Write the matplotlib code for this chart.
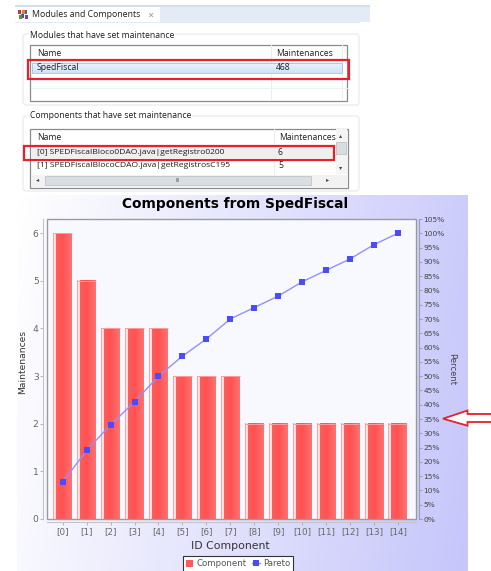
import numpy as np
import matplotlib
matplotlib.use("Agg")
import matplotlib.pyplot as plt
from matplotlib.colors import LinearSegmentedColormap
from matplotlib.patches import Rectangle, FancyBboxPatch, Polygon

# ---- data ----
categories = ["[0]", "[1]", "[2]", "[3]", "[4]", "[5]", "[6]", "[7]",
              "[8]", "[9]", "[10]", "[11]", "[12]", "[13]", "[14]"]
maintenances = [6, 5, 4, 4, 4, 3, 3, 3, 2, 2, 2, 2, 2, 2, 2]
pareto_pct = [13, 24, 33, 41, 50, 57, 63, 70, 74, 78, 83, 87, 91, 96, 100]
percent_ticks = list(range(0, 110, 5))
count_ticks = [0, 1, 2, 3, 4, 5, 6]
title = "Components from SpedFiscal"

W, H = 491, 571
fig = plt.figure(figsize=(W / 100, H / 100), dpi=100, facecolor="white")

# ---- pixel-space layer: window mock-up and chart panel ----
ui = fig.add_axes([0, 0, 1, 1], zorder=1)
ui.axis("off")
UIF = "Open Sans"
TXT = "#1E1E1E"

# chart panel gradient
yy, xx = np.mgrid[0:1:120j, 0:1:200j]
t = np.clip(xx * 0.88 + yy * 0.12, 0, 1)
panel = LinearSegmentedColormap.from_list("p", ["#FFFFFF", "#C6C6FB"])
ui.imshow(t, extent=(17, 467.5, 571, 195), cmap=panel, vmin=0, vmax=1,
          aspect="auto", interpolation="bilinear", zorder=1)

# tab strip
ui.add_patch(Rectangle((15, 5), 355, 1.5, fc="#D5DDEB", ec="none", zorder=1))
ui.add_patch(Rectangle((160, 7), 210, 15, fc="#E2EBF6", ec="none", zorder=1))
ui.add_patch(Rectangle((15, 22), 345, 0.8, fc="#E4EAF3", ec="none", zorder=1))
for (x0, y0, c) in [(18, 10, "#C0392B"), (21, 14, "#3B5BA5"), (24, 10, "#7B4FA0"),
                    (19, 15, "#5C8F3A"), (22, 10, "#D08A30"), (25, 15, "#8A3F8A")]:
    ui.add_patch(Rectangle((x0, y0), 3.2, 4, fc=c, ec="none", zorder=2))
ui.text(32, 14.5, "Modules and Components", family=UIF, fontsize=6.3, color=TXT,
        va="center", ha="left", zorder=3)
ui.text(150, 15, "\u2715", family="DejaVu Sans", fontsize=5.5, color="#999999",
        va="center", ha="center", zorder=3)

# group boxes
for (x0, y0, w, h) in [(23, 34, 336, 71), (23, 116, 336, 75)]:
    ui.add_patch(FancyBboxPatch((x0, y0), w, h, boxstyle="round,pad=0,rounding_size=3",
                                fc="white", ec="#E6E8EC", lw=0.8, zorder=1))
for (y0, s) in [(35, "Modules that have set maintenance"),
                (116, "Components that have set maintenance")]:
    ui.text(30, y0, s, family=UIF, fontsize=6.2, color=TXT, va="center", ha="left",
            zorder=3, bbox=dict(fc="white", ec="none", pad=0.6))

# first table
ui.add_patch(Rectangle((30.5, 44.5), 317, 56, fc="white", ec="#8A8A8A", lw=0.9, zorder=2))
ui.plot([271.5, 271.5], [45, 100], color="#EDEDED", lw=0.7, zorder=2.1)
ui.plot([342.5, 342.5], [45, 100], color="#EDEDED", lw=0.7, zorder=2.1)
ui.plot([31, 347], [87.5, 87.5], color="#F0F0F0", lw=0.7, zorder=2.1)
sel = LinearSegmentedColormap.from_list("s", ["#EAF3FC", "#CFE3F8"])
ui.imshow(np.linspace(0, 1, 20)[:, None], extent=(32, 342, 73, 63), cmap=sel, aspect="auto", zorder=2.2)
ui.add_patch(Rectangle((32, 63), 310, 10, fc="none", ec="#9CC4EC", lw=0.6, zorder=2.3))
ui.text(37, 53.5, "Name", family=UIF, fontsize=6.2, color=TXT, va="center", zorder=3)
ui.text(276, 53.5, "Maintenances", family=UIF, fontsize=6.2, color=TXT, va="center", zorder=3)
ui.text(37, 68, "SpedFiscal", family=UIF, fontsize=6.2, color=TXT, va="center", zorder=3)
ui.text(276, 68, "468", family=UIF, fontsize=6.2, color=TXT, va="center", zorder=3)
ui.add_patch(Rectangle((28.5, 59.5), 320.5, 19, fc="none", ec="#E8202C", lw=1.6, zorder=4))

# second table
ui.add_patch(Rectangle((30.5, 128.5), 318, 59, fc="white", ec="#8A8A8A", lw=0.9, zorder=2))
ui.plot([274, 274], [129, 174], color="#EDEDED", lw=0.7, zorder=2.1)
ui.text(37, 138, "Name", family=UIF, fontsize=6.2, color=TXT, va="center", zorder=3)
ui.text(279, 138, "Maintenances", family=UIF, fontsize=6.2, color=TXT, va="center", zorder=3)
ui.add_patch(Rectangle((32, 146), 302, 12, fc="#EFEFEF", ec="none", zorder=2.2))
ui.text(37, 152.5, "[0] SPEDFiscalBloco0DAO.java|getRegistro0200", family=UIF, fontsize=6.1,
        color=TXT, va="center", zorder=3)
ui.text(278, 152.5, "6", family=UIF, fontsize=6.2, color=TXT, va="center", zorder=3)
ui.text(37, 165.5, "[1] SPEDFiscalBlocoCDAO.java|getRegistrosC195", family=UIF, fontsize=6.1,
        color=TXT, va="center", zorder=3)
ui.text(278, 165.5, "5", family=UIF, fontsize=6.2, color=TXT, va="center", zorder=3)
ui.add_patch(Rectangle((24.5, 145.5), 309.5, 14, fc="none", ec="#E8202C", lw=1.6, zorder=4))

# scrollbars
ui.add_patch(Rectangle((336, 129), 11.5, 45, fc="#F4F4F4", ec="none", zorder=2.2))
ui.add_patch(Rectangle((336.5, 142), 10, 12, fc="#D9DCE0", ec="#B8BCC2", lw=0.5, zorder=2.4))
ui.add_patch(Rectangle((31, 175), 317, 12, fc="#F2F2F2", ec="none", zorder=2.2))
ui.add_patch(Rectangle((45, 175.5), 266, 9.5, fc="#DADDE1", ec="#B8BCC2", lw=0.5, zorder=2.4))
ui.text(178, 180, "III", family=UIF, fontsize=4, color="#555555", ha="center", va="center", zorder=3)
ui.text(38, 180, "\u25C2", family="DejaVu Sans", fontsize=4.5, color="#444444", ha="center", va="center", zorder=3)
ui.text(328, 180, "\u25B8", family="DejaVu Sans", fontsize=4.5, color="#444444", ha="center", va="center", zorder=3)
ui.text(341, 136, "\u25B4", family="DejaVu Sans", fontsize=4.5, color="#444444", ha="center", va="center", zorder=3)
ui.text(341, 168, "\u25BE", family="DejaVu Sans", fontsize=4.5, color="#444444", ha="center", va="center", zorder=3)

# red call-out arrow
ui.add_patch(Polygon([(491, 414), (467.5, 414), (467.5, 410.5), (443, 418.7),
                      (467.5, 425.7), (467.5, 422), (491, 422)],
                     closed=False, fc="white", ec="#E8202C", lw=1.3, zorder=5))

# chart title
ui.text(235.5, 204, title, family="DejaVu Sans", fontweight="bold", fontsize=9.9,
        color="black", ha="center", va="center", zorder=3)
ui.set_xlim(0, W)
ui.set_ylim(H, 0)

# ---- chart ----
L, R, T, B = 46.5, 415.5, 219, 519
ax = fig.add_axes([L / W, 1 - B / H, (R - L) / W, (B - T) / H], zorder=2, facecolor="#F8F9FF")
x = np.arange(len(categories))
bar_w = 0.78
bars = ax.bar(x, maintenances, width=bar_w, color="#FF5A5A", linewidth=0, zorder=2)

grad = LinearSegmentedColormap.from_list(
    "bar", [(0.00, "#FFA4A4"), (0.05, "#FFA4A4"), (0.07, "#FFE4E4"), (0.14, "#FFE0E0"),
            (0.17, "#FF5C5C"), (0.50, "#FF5252"), (1.00, "#FF7272")])
for b in bars:
    bx, bw, bh = b.get_x(), b.get_width(), b.get_height()
    ax.imshow(np.linspace(0, 1, 128)[None, :], extent=(bx, bx + bw, 0, bh), cmap=grad,
              aspect="auto", zorder=2.1, interpolation="nearest")
    ax.plot([bx, bx + bw], [bh, bh], color="#FF9C9C", lw=0.7, zorder=2.2, solid_capstyle="butt")

ax.set_xlim(-0.68, 14.74)
ax.set_ylim(0, 6.294)
ax.set_xticks(x)
ax.set_xticklabels(categories)
ax.set_yticks(count_ticks)
ax.tick_params(axis="x", length=2, width=0.5, color="#999999", labelsize=6.3, labelcolor="#666666", pad=1.8)
ax.tick_params(axis="y", length=2, width=0.5, color="#999999", labelsize=6.6, labelcolor="#666666", pad=1.5)
for s in ("top", "right"):
    ax.spines[s].set_visible(False)
for s in ("left", "bottom"):
    ax.spines[s].set_position(("outward", 2.2))
    ax.spines[s].set_color("#C4C4C8")
    ax.spines[s].set_linewidth(0.8)
ax.add_patch(Rectangle((0, 0), 1, 1, transform=ax.transAxes, fc="none", ec="#9A9AA0",
                       lw=1.0, zorder=5, clip_on=False))
ax.set_xlabel("ID Component", family="DejaVu Sans", fontsize=7.8, color="#333333")
ax.xaxis.set_label_coords((230.5 - L) / (R - L), -(546 - B) / (B - T))
ax.xaxis.label.set_va("center")
ax.set_ylabel("Maintenances", fontsize=6.6, color="#333333")
ax.yaxis.set_label_coords((23 - L) / (R - L), (B - 362) / (B - T))
ax.yaxis.label.set_va("center")

ax2 = ax.twinx()
ax2.patch.set_visible(False)
ax2.set_ylim(0, 105)
line, = ax2.plot(x, pareto_pct, color="#9090FF", lw=1.0, marker="s", ms=3.7,
                 mfc="#4A4AFF", mec="#4A4AFF", mew=0, zorder=4, label="Pareto")
ax2.set_yticks(percent_ticks)
ax2.set_yticklabels([f"{p}%" for p in percent_ticks])
ax2.tick_params(axis="y", length=2, width=0.5, color="#8888A0", labelsize=5.4,
                labelcolor="#444444", pad=1.5)
for s in ("top", "left", "bottom"):
    ax2.spines[s].set_visible(False)
ax2.spines["right"].set_position(("outward", 2.2))
ax2.spines["right"].set_color("#9A9AB0")
ax2.spines["right"].set_linewidth(0.8)
ax2.set_ylabel("Percent", fontsize=6, color="#444444", rotation=270)
ax2.yaxis.set_label_coords((452 - L) / (R - L), 0.5)
ax2.yaxis.label.set_va("center")

bar_handle = Rectangle((0, 0), 1, 1, fc="#FF5A5A", ec="none")
leg = fig.legend([bar_handle, line], ["Component", "Pareto"], loc="center",
                 bbox_to_anchor=(238 / W, 1 - 564 / H), ncol=2, fontsize=6.2,
                 frameon=True, fancybox=False, framealpha=1, facecolor="white",
                 edgecolor="#333333", borderpad=0.35, handlelength=0.9, handleheight=0.8,
                 handletextpad=0.35, columnspacing=0.7, labelcolor="#555555")
leg.get_frame().set_linewidth(0.8)
leg.set_zorder(10)

fig.savefig("out.png", dpi=100)
